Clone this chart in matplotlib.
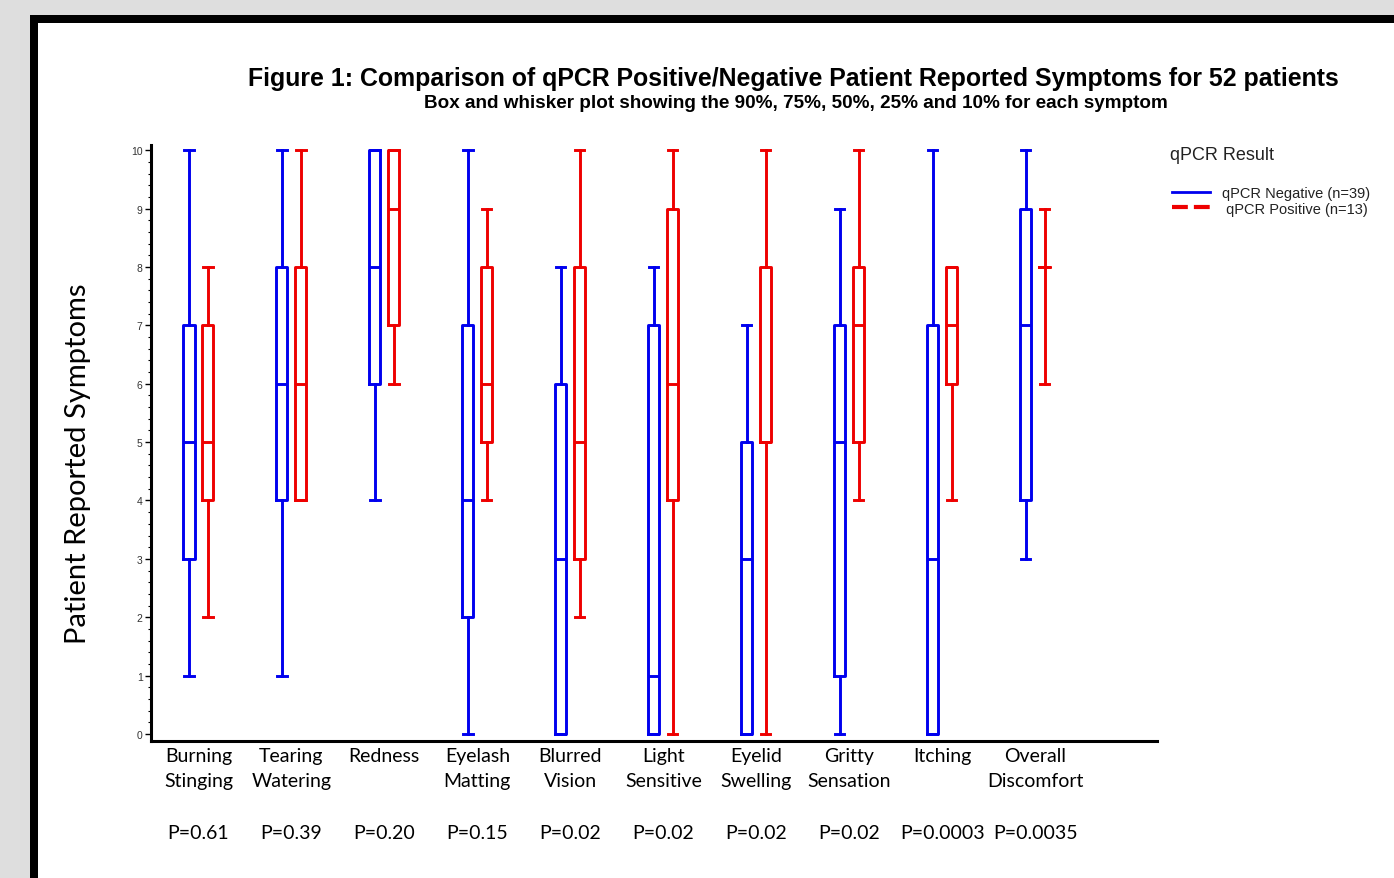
import matplotlib
matplotlib.use('Agg')
import matplotlib.pyplot as plt
from matplotlib.patches import Rectangle
from matplotlib.lines import Line2D
from matplotlib.ticker import MultipleLocator

# symptom groups and p-values
symptoms = ["Burning\nStinging", "Tearing\nWatering", "Redness", "Eyelash\nMatting",
            "Blurred\nVision", "Light\nSensitive", "Eyelid\nSwelling", "Gritty\nSensation",
            "Itching", "Overall\nDiscomfort"]
p_values = ["P=0.61", "P=0.39", "P=0.20", "P=0.15", "P=0.02", "P=0.02", "P=0.02",
            "P=0.02", "P=0.0003", "P=0.0035"]

# qPCR negative percentiles (10, 25, 50, 75, 90)
neg_p10 = [1, 1, 4, 0, 0, 0, 0, 0, 0, 3]
neg_p25 = [3, 4, 6, 2, 0, 0, 0, 1, 0, 4]
neg_p50 = [5, 6, 8, 4, 3, 1, 3, 5, 3, 7]
neg_p75 = [7, 8, 10, 7, 6, 7, 5, 7, 7, 9]
neg_p90 = [10, 10, 10, 10, 8, 8, 7, 9, 10, 10]

# qPCR positive percentiles
pos_p10 = [2, 4, 6, 4, 2, 0, 0, 4, 4, 6]
pos_p25 = [4, 4, 7, 5, 3, 4, 5, 5, 6, 8]
pos_p50 = [5, 6, 9, 6, 5, 6, 5, 7, 7, 8]
pos_p75 = [7, 8, 10, 8, 8, 9, 8, 8, 8, 8]
pos_p90 = [8, 10, 10, 9, 10, 10, 10, 10, 8, 9]

yticks = list(range(0, 11))


def make_stats(p10, p25, p50, p75, p90):
    return [dict(whislo=a, q1=b, med=c, q3=d, whishi=e, fliers=[])
            for a, b, c, d, e in zip(p10, p25, p50, p75, p90)]


W, H = 1394, 879
fig = plt.figure(figsize=(W / 100, H / 100), dpi=100, facecolor='#dedede')

# page frame
fig.add_artist(Rectangle((30 / W, 0), 1, 1 - 16 / H, transform=fig.transFigure,
                         facecolor='black', edgecolor='none', zorder=0))
fig.add_artist(Rectangle((38 / W, 0), 1, 1 - 24 / H, transform=fig.transFigure,
                         facecolor='white', edgecolor='none', zorder=0))

ax = fig.add_axes([151 / W, 1 - 742 / H, (1157 - 151) / W, (742 - 146) / H])
ax.set_facecolor('none')

x = list(range(len(symptoms)))
off = 0.102
lw = 2.1
for stats, col, dx in [(make_stats(neg_p10, neg_p25, neg_p50, neg_p75, neg_p90), '#0000ee', -off),
                       (make_stats(pos_p10, pos_p25, pos_p50, pos_p75, pos_p90), '#ee0000', off)]:
    ax.bxp(stats, positions=[i + dx for i in x], widths=0.12, capwidths=0.1,
           showfliers=False, manage_ticks=False,
           boxprops=dict(color=col, lw=lw),
           whiskerprops=dict(color=col, lw=lw),
           capprops=dict(color=col, lw=lw),
           medianprops=dict(color=col, lw=lw))

ax.set_xlim(-0.51, 10.31)
ax.set_ylim(-0.12, 10.09)
for s in ['top', 'right']:
    ax.spines[s].set_visible(False)
for s in ['left', 'bottom']:
    ax.spines[s].set_linewidth(2.2)

ax.set_yticks(yticks)
ax.yaxis.set_minor_locator(MultipleLocator(0.2))
ax.tick_params(axis='y', which='major', length=4, width=1, labelsize=7.5,
               labelcolor='#333333', pad=2)
ax.tick_params(axis='y', which='minor', length=2, width=0.8)
for t in ax.get_yticklabels():
    t.set_family('Liberation Sans')

ax.set_xticks(x)
ax.set_xticklabels(symptoms, family='Lato', fontsize=14, linespacing=1.6)
ax.tick_params(axis='x', length=0, pad=4)

for i, p in zip(x, p_values):
    ax.text(i, -0.154, p, transform=ax.get_xaxis_transform(), ha='center', va='center',
            family='Lato', fontsize=14)

fig.text(78 / W, 1 - 464 / H, "Patient Reported Symptoms", rotation=90, ha='center',
         va='center', family='Lato', fontsize=21)

fig.text(793 / W, 1 - 79 / H,
         "Figure 1: Comparison of qPCR Positive/Negative Patient Reported Symptoms for 52 patients",
         ha='center', va='center', family='Liberation Sans', weight='bold', fontsize=17.9)
fig.text(796 / W, 1 - 104 / H,
         "Box and whisker plot showing the 90%, 75%, 50%, 25% and 10% for each symptom",
         ha='center', va='center', family='Liberation Sans', weight='bold', fontsize=13.6)

# legend
fig.text(1170 / W, 1 - 156 / H, "qPCR Result", ha='left', va='center',
         family='Liberation Sans', fontsize=13, color='#222222')
handles = [Line2D([], [], color='#0000ee', lw=2),
           Line2D([], [], color='#ee0000', lw=3, ls=(0, (3.8, 1.45)))]
fig.legend(handles, ["qPCR Negative (n=39)", " qPCR Positive (n=13)"],
           loc='upper left', bbox_to_anchor=(1159 / W, 1 - 174 / H), frameon=False,
           handlelength=2.6, handletextpad=0.8, labelspacing=0.1,
           prop=dict(family='Liberation Sans', size=10.5), labelcolor='#222222')

fig.savefig('out.png', dpi=100, facecolor=fig.get_facecolor())
